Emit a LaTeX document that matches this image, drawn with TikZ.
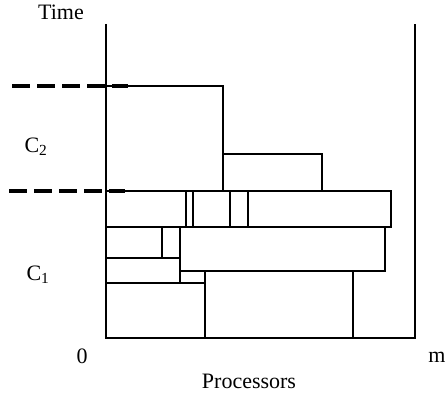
\documentclass[tikz,border=0pt]{standalone}
\usepackage{fontspec}
\setmainfont{Liberation Serif}
\begin{document}
\begin{tikzpicture}[x=1pt,y=-1pt,
  job/.style={draw=black,line width=1.6pt},
  axis/.style={draw=black,line width=1.6pt},
  bound/.style={draw=black,line width=3.2pt,dash pattern=on 18pt off 7pt},
  lbl/.style={font=\fontsize{22}{24}\selectfont,inner sep=0pt}]
\useasboundingbox (0,0) rectangle (447,396);
% chart frame: time axis, right processor limit, baseline
\draw[axis] (106,24) -- (106,338) -- (415,338) -- (415,24);
% phase boundaries
\draw[bound] (12,86) -- (128,86);
\draw[bound] (9,191) -- (125,191);
% phase C2
\draw[job] (106,86) -- (223,86) -- (223,191);
\draw[job] (223,154) rectangle (322,191);
% phase C1, top row
\draw[job] (106,191) rectangle (391,227);
\foreach \xx in {186,193,230,248} \draw[job] (\xx,191) -- (\xx,227);
% phase C1, middle rows
\draw[job] (180,227) rectangle (385,271);
\draw[job] (106,258) -- (180,258);
\draw[job] (162,227) -- (162,258);
\draw[job] (180,271) -- (180,283);
% phase C1, bottom row
\draw[job] (106,283) -- (205,283);
\draw[job] (205,271) -- (205,338);
\draw[job] (205,271) -- (353,271) -- (353,338);
% labels
\node[lbl] (time) at (61,12) {Time};
\node[lbl] (c2) at (36,147) {C\textsubscript{2}};
\node[lbl] (c1) at (38,275) {C\textsubscript{1}};
\node[lbl] (zero) at (82,356) {0};
\node[lbl] (m) at (437,357) {m};
\node[lbl] (proc) at (249,381) {Processors};
\end{tikzpicture}
\end{document}
